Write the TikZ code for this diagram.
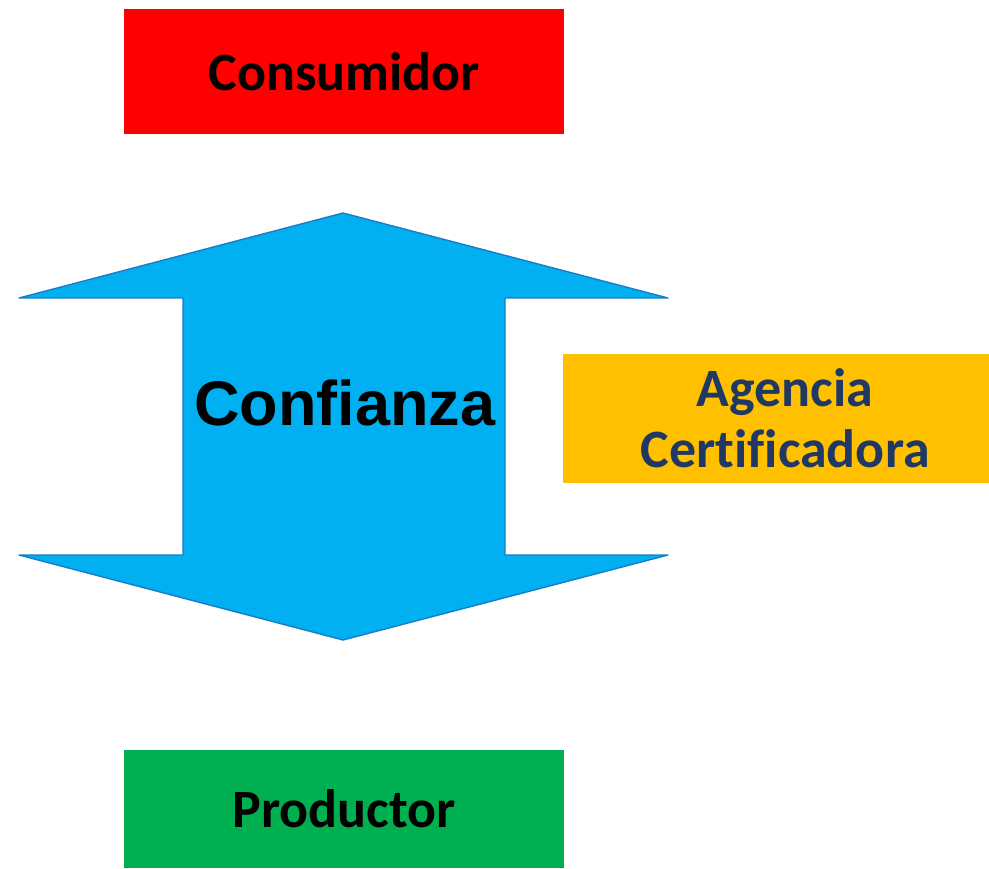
\documentclass[tikz,border=0pt]{standalone}
\usepackage{fontspec}
\setmainfont{Carlito}[Ligatures=NoCommon]
\newfontfamily\arialfont{Liberation Sans}[Ligatures=NoCommon]
\definecolor{boxred}{HTML}{FF0000}
\definecolor{boxgreen}{HTML}{00B050}
\definecolor{boxorange}{HTML}{FFC000}
\definecolor{arrowfill}{HTML}{00B0F0}
\definecolor{arrowline}{HTML}{1A7CC8}
\definecolor{navytext}{HTML}{203864}
\begin{document}
\begin{tikzpicture}[x=1pt,y=-1pt,
  boxstyle/.style={draw=none,minimum width=440pt,inner sep=0pt,font=\fontsize{54}{63}\selectfont\bfseries,align=center,anchor=north west},
]
\useasboundingbox (0,0) rectangle (989,869);
% boxes
\node[boxstyle,fill=boxred,minimum height=125pt] (cons) at (124,9) {Consumidor};
\node[boxstyle,fill=boxgreen,minimum height=118pt,minimum width=440pt] (prod) at (124,750) {Productor};
\node[boxstyle,fill=boxorange,minimum height=129pt,minimum width=426pt] (agen) at (563,354) {};
\node[font=\fontsize{54}{63}\selectfont\bfseries,align=center,text=navytext,inner sep=0pt] (agentext) at ([xshift=9pt]agen.center) {Agencia\\[-2pt]Certificadora};
% double arrow
\filldraw[fill=arrowfill,draw=arrowline,line width=1.4pt,line join=round]
  (343,213) -- (668,298) -- (505,298) -- (505,555) -- (668,555) -- (343,640)
  -- (19,555) -- (183,555) -- (183,298) -- (19,298) -- cycle;
\node[font=\arialfont\fontsize{63}{70}\selectfont\bfseries] (conf) at (345,403) {Confianza};
\end{tikzpicture}
\end{document}
